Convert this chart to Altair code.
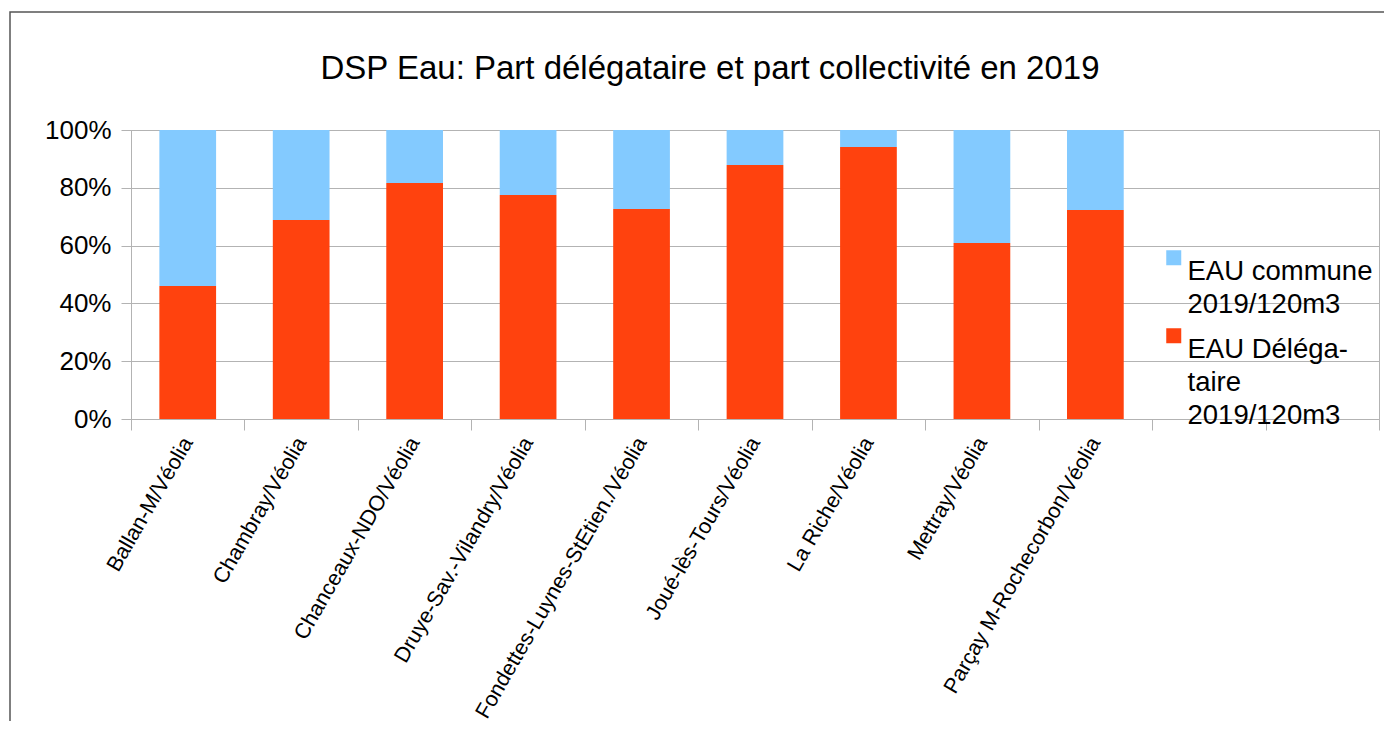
import altair as alt
import pandas as pd

communes = [
    "Ballan-M/Véolia",
    "Chambray/Véolia",
    "Chanceaux-NDO/Véolia",
    "Druye-Sav.-Vilandry/Véolia",
    "Fondettes-Luynes-StEtien./Véolia",
    "Joué-lès-Tours/Véolia",
    "La Riche/Véolia",
    "Mettray/Véolia",
    "Parçay M-Rochecorbon/Véolia",
]
empty_slots = [" ", "  "]

part_delegataire = [46.0, 68.9, 81.7, 77.5, 72.7, 87.9, 94.1, 60.9, 72.3]
part_commune = [54.0, 31.1, 18.3, 22.5, 27.3, 12.1, 5.9, 39.1, 27.7]

series = ["EAU commune 2019/120m3", "EAU Délégataire 2019/120m3"]
series_lines = [["EAU commune", "2019/120m3"], ["EAU Déléga-", "taire", "2019/120m3"]]
colors = ["#83caff", "#ff420e"]
y_ticks = [0, 0.2, 0.4, 0.6, 0.8, 1.0]

rows = []
for c, d, m in zip(communes, part_delegataire, part_commune):
    rows.append({"commune": c, "serie": series[1], "valeur": d / 100, "ordre": 0})
    rows.append({"commune": c, "serie": series[0], "valeur": m / 100, "ordre": 1})
df = pd.DataFrame(rows)

FONT = "Liberation Sans"
GRID = "#b3b3b3"

label_expr = (
    f"datum.label == '{series[0]}' ? {series_lines[0]!r} : {series_lines[1]!r}"
)

bars = alt.Chart(df).mark_bar(width=alt.RelativeBandSize(0.5)).encode(
    x=alt.X(
        "commune:N",
        scale=alt.Scale(domain=communes + empty_slots, paddingInner=0, paddingOuter=0),
        sort=None,
        axis=alt.Axis(
            title=None,
            labelAngle=-60,
            labelAlign="right",
            labelBaseline="middle",
            labelFont=FONT,
            labelFontSize=21.5,
            labelColor="#000000",
            labelPadding=9,
            tickBand="extent",
            tickSize=11,
            tickColor=GRID,
            domainColor=GRID,
            grid=False,
            labelLimit=0,
        ),
    ),
    y=alt.Y(
        "valeur:Q",
        stack="zero",
        scale=alt.Scale(domain=[0, 1]),
        axis=alt.Axis(
            title=None,
            format=".0%",
            values=y_ticks,
            labelFont=FONT,
            labelFontSize=26,
            labelColor="#000000",
            labelPadding=10,
            tickSize=10,
            tickColor=GRID,
            domainColor=GRID,
            gridColor=GRID,
        ),
    ),
    color=alt.Color(
        "serie:N",
        scale=alt.Scale(domain=series, range=colors),
        legend=alt.Legend(
            title=None,
            orient="none",
            legendX=1029,
            legendY=114,
            padding=0,
            symbolType="square",
            symbolSize=225,
            symbolStrokeWidth=0,
            labelFont=FONT,
            labelFontSize=27.5,
            labelColor="#000000",
            labelOffset=0,
            labelBaseline="top",
            labelExpr=label_expr,
            labelLimit=0,
            rowPadding=3,
        ),
    ),
    order=alt.Order("ordre:Q"),
)

frame = alt.Chart(alt.Data(values=[{}])).mark_rect(
    fill=None, stroke="#555555", strokeWidth=1.5
).encode(
    x=alt.value(-121), x2=alt.value(1400), y=alt.value(-118), y2=alt.value(700)
)

chart = alt.layer(frame, bars).properties(
    width=1248,
    height=289,
    title=alt.TitleParams(
        "DSP Eau: Part délégataire et part collectivité en 2019",
        font=FONT,
        fontSize=33,
        fontWeight="normal",
        color="#000000",
        anchor="middle",
        dx=-45,
        offset=-75,
    ),
    padding={"left": 123, "top": 122, "right": 5, "bottom": 302},
    autosize=alt.AutoSizeParams(type="none"),
).configure(
    style={"guide-label": {"lineHeight": 33}}
).configure_view(stroke=GRID)

chart.save("out.html", embed_options={"renderer": "svg", "actions": False})
